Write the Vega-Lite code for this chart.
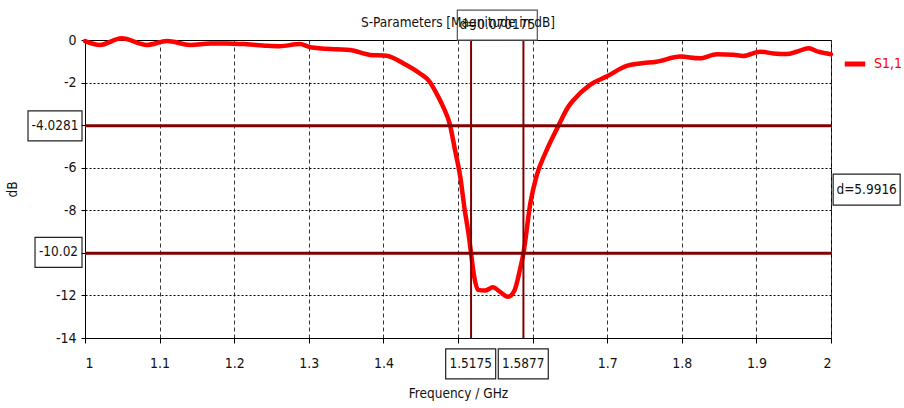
{
  "$schema": "https://vega.github.io/schema/vega-lite/v6.json",
  "width": 746,
  "height": 298,
  "autosize": {"type": "none"},
  "padding": {"left": 85, "top": 40, "right": 73, "bottom": 70},
  "background": "white",
  "title": {"text": "S-Parameters [Magnitude in dB]", "frame": "group", "anchor": "middle", "offset": 9, "dy": 29, "font": "DejaVu Sans Condensed, Roboto, sans-serif", "fontSize": 13.5, "fontWeight": "normal", "color": "#111"},
  "datasets": {
    "curve": [
      {"f": 1.000, "db": -0.05, "series": "S1,1"},
      {"f": 1.020, "db": -0.23, "series": "S1,1"},
      {"f": 1.049, "db": 0.08, "series": "S1,1"},
      {"f": 1.083, "db": -0.23, "series": "S1,1"},
      {"f": 1.110, "db": -0.05, "series": "S1,1"},
      {"f": 1.141, "db": -0.23, "series": "S1,1"},
      {"f": 1.168, "db": -0.16, "series": "S1,1"},
      {"f": 1.190, "db": -0.16, "series": "S1,1"},
      {"f": 1.217, "db": -0.2, "series": "S1,1"},
      {"f": 1.244, "db": -0.27, "series": "S1,1"},
      {"f": 1.261, "db": -0.29, "series": "S1,1"},
      {"f": 1.288, "db": -0.19, "series": "S1,1"},
      {"f": 1.302, "db": -0.34, "series": "S1,1"},
      {"f": 1.337, "db": -0.44, "series": "S1,1"},
      {"f": 1.355, "db": -0.47, "series": "S1,1"},
      {"f": 1.382, "db": -0.7, "series": "S1,1"},
      {"f": 1.404, "db": -0.74, "series": "S1,1"},
      {"f": 1.427, "db": -1.1, "series": "S1,1"},
      {"f": 1.449, "db": -1.57, "series": "S1,1"},
      {"f": 1.462, "db": -1.96, "series": "S1,1"},
      {"f": 1.471, "db": -2.5, "series": "S1,1"},
      {"f": 1.480, "db": -3.13, "series": "S1,1"},
      {"f": 1.489, "db": -3.95, "series": "S1,1"},
      {"f": 1.496, "db": -5.17, "series": "S1,1"},
      {"f": 1.503, "db": -6.42, "series": "S1,1"},
      {"f": 1.509, "db": -7.98, "series": "S1,1"},
      {"f": 1.514, "db": -9.08, "series": "S1,1"},
      {"f": 1.5175, "db": -10.02, "series": "S1,1"},
      {"f": 1.521, "db": -10.96, "series": "S1,1"},
      {"f": 1.527, "db": -11.74, "series": "S1,1"},
      {"f": 1.536, "db": -11.77, "series": "S1,1"},
      {"f": 1.547, "db": -11.62, "series": "S1,1"},
      {"f": 1.556, "db": -11.82, "series": "S1,1"},
      {"f": 1.567, "db": -12.06, "series": "S1,1"},
      {"f": 1.576, "db": -11.74, "series": "S1,1"},
      {"f": 1.583, "db": -10.8, "series": "S1,1"},
      {"f": 1.5877, "db": -10.02, "series": "S1,1"},
      {"f": 1.597, "db": -7.67, "series": "S1,1"},
      {"f": 1.605, "db": -6.42, "series": "S1,1"},
      {"f": 1.617, "db": -5.32, "series": "S1,1"},
      {"f": 1.634, "db": -4.07, "series": "S1,1"},
      {"f": 1.648, "db": -3.13, "series": "S1,1"},
      {"f": 1.655, "db": -2.82, "series": "S1,1"},
      {"f": 1.677, "db": -2.11, "series": "S1,1"},
      {"f": 1.699, "db": -1.72, "series": "S1,1"},
      {"f": 1.726, "db": -1.22, "series": "S1,1"},
      {"f": 1.744, "db": -1.1, "series": "S1,1"},
      {"f": 1.766, "db": -1.02, "series": "S1,1"},
      {"f": 1.798, "db": -0.78, "series": "S1,1"},
      {"f": 1.824, "db": -0.86, "series": "S1,1"},
      {"f": 1.847, "db": -0.67, "series": "S1,1"},
      {"f": 1.869, "db": -0.69, "series": "S1,1"},
      {"f": 1.882, "db": -0.75, "series": "S1,1"},
      {"f": 1.905, "db": -0.55, "series": "S1,1"},
      {"f": 1.923, "db": -0.63, "series": "S1,1"},
      {"f": 1.941, "db": -0.66, "series": "S1,1"},
      {"f": 1.954, "db": -0.55, "series": "S1,1"},
      {"f": 1.970, "db": -0.39, "series": "S1,1"},
      {"f": 1.983, "db": -0.55, "series": "S1,1"},
      {"f": 2.000, "db": -0.67, "series": "S1,1"}
    ],
    "hmarkers": [{"value": -4.0281}, {"value": -10.02}],
    "vmarkers": [{"value": 1.5175}, {"value": 1.5877}],
    "labels": [
      {"label": "-4.0281", "f": 0.9598, "db": -4.03},
      {"label": "-10.02", "f": 0.9645, "db": -9.98},
      {"label": "1.5175", "f": 1.517, "db": -15.22},
      {"label": "1.5877", "f": 1.5875, "db": -15.22},
      {"label": "d=5.9916", "f": 2.0478, "db": -7.03},
      {"label": "d=0.070175", "f": 1.5527, "db": 0.70}
    ]
  },
  "layer": [
    {
      "data": {"name": "curve"},
      "mark": {"type": "line", "strokeWidth": 4.5, "interpolate": "monotone", "strokeCap": "round"},
      "encoding": {
        "x": {"field": "f", "type": "quantitative", "scale": {"domain": [1, 2], "nice": false, "zero": false},
          "axis": {"values": [1, 1.1, 1.2, 1.3, 1.4, 1.5, 1.6, 1.7, 1.8, 1.9, 2],
            "labelExpr": "datum.value == 1.5 || datum.value == 1.6 ? '' : '' + datum.value",
            "grid": true, "gridDash": [4, 3], "gridColor": "#333", "gridOpacity": 1, "gridWidth": 1,
            "domainColor": "black", "tickColor": "black", "tickSize": 5, "labelPadding": 13,
            "labelFont": "DejaVu Sans Condensed, Roboto, sans-serif", "labelFontSize": 14, "labelColor": "#111",
            "title": "Frequency / GHz", "titleFont": "DejaVu Sans Condensed, Roboto, sans-serif", "titleFontSize": 13.5, "titleFontWeight": "normal", "titleColor": "#111", "titlePadding": 16}},
        "y": {"field": "db", "type": "quantitative", "scale": {"domain": [-14, 0], "nice": false, "zero": false},
          "axis": {"values": [0, -2, -4, -6, -8, -10, -12, -14],
            "labelExpr": "datum.value == -4 || datum.value == -10 ? '' : '' + datum.value",
            "grid": true, "gridDash": [2, 2], "gridColor": "black", "gridOpacity": 1, "gridWidth": 1,
            "domainColor": "black", "tickColor": "black", "tickSize": 4, "labelPadding": 5,
            "labelFont": "DejaVu Sans Condensed, Roboto, sans-serif", "labelFontSize": 14, "labelColor": "#111",
            "title": "dB", "titleFont": "DejaVu Sans Condensed, Roboto, sans-serif", "titleFontSize": 13.5, "titleFontWeight": "normal", "titleColor": "#111", "titlePadding": 36}},
        "color": {"field": "series", "type": "nominal", "scale": {"range": ["#ff0000"]},
          "legend": {"orient": "none", "legendX": 757, "legendY": 11, "title": null, "symbolType": "stroke", "symbolStrokeWidth": 5, "symbolSize": 420, "padding": 0, "labelColor": "#ff0000", "labelFont": "DejaVu Sans Condensed, Roboto, sans-serif", "labelFontSize": 14, "labelOffset": 6, "labelLimit": 60}}
      }
    },
    {
      "data": {"name": "hmarkers"},
      "mark": {"type": "rule", "color": "#800000", "strokeWidth": 3},
      "encoding": {"y": {"field": "value", "type": "quantitative"}}
    },
    {
      "data": {"name": "vmarkers"},
      "mark": {"type": "rule", "color": "#800000", "strokeWidth": 2},
      "encoding": {"x": {"field": "value", "type": "quantitative"}}
    },
    {
      "data": {"name": "labels"},
      "transform": [{"filter": "datum.label == '-4.0281'"}],
      "mark": {"type": "rect", "width": 54, "height": 30, "fill": "white", "fillOpacity": 0, "stroke": "#222", "strokeWidth": 1.2},
      "encoding": {"x": {"field": "f", "type": "quantitative"}, "y": {"field": "db", "type": "quantitative"}}
    },
    {
      "data": {"name": "labels"},
      "transform": [{"filter": "datum.label == '-10.02'"}],
      "mark": {"type": "rect", "width": 47, "height": 30, "fill": "white", "fillOpacity": 0, "stroke": "#222", "strokeWidth": 1.2},
      "encoding": {"x": {"field": "f", "type": "quantitative"}, "y": {"field": "db", "type": "quantitative"}}
    },
    {
      "data": {"name": "labels"},
      "transform": [{"filter": "datum.label == '1.5175' || datum.label == '1.5877'"}],
      "mark": {"type": "rect", "width": 50, "height": 30, "fill": "white", "fillOpacity": 0, "stroke": "#222", "strokeWidth": 1.2},
      "encoding": {"x": {"field": "f", "type": "quantitative"}, "y": {"field": "db", "type": "quantitative"}}
    },
    {
      "data": {"name": "labels"},
      "transform": [{"filter": "datum.label == 'd=5.9916'"}],
      "mark": {"type": "rect", "width": 67, "height": 31, "fill": "white", "fillOpacity": 0, "stroke": "#222", "strokeWidth": 1.2},
      "encoding": {"x": {"field": "f", "type": "quantitative"}, "y": {"field": "db", "type": "quantitative"}}
    },
    {
      "data": {"name": "labels"},
      "transform": [{"filter": "datum.label == 'd=0.070175'"}],
      "mark": {"type": "rect", "width": 80, "height": 30, "fill": "white", "fillOpacity": 0, "stroke": "#555", "strokeWidth": 1.2},
      "encoding": {"x": {"field": "f", "type": "quantitative"}, "y": {"field": "db", "type": "quantitative"}}
    },
    {
      "data": {"name": "labels"},
      "mark": {"type": "text", "font": "DejaVu Sans Condensed, Roboto, sans-serif", "fontSize": 13.5, "align": "center", "baseline": "middle", "color": "#111"},
      "encoding": {"x": {"field": "f", "type": "quantitative"}, "y": {"field": "db", "type": "quantitative"}, "text": {"field": "label"}}
    }
  ],
  "config": {
    "view": {"stroke": "black", "strokeWidth": 1},
    "font": "DejaVu Sans Condensed, Roboto, sans-serif"
  }
}
